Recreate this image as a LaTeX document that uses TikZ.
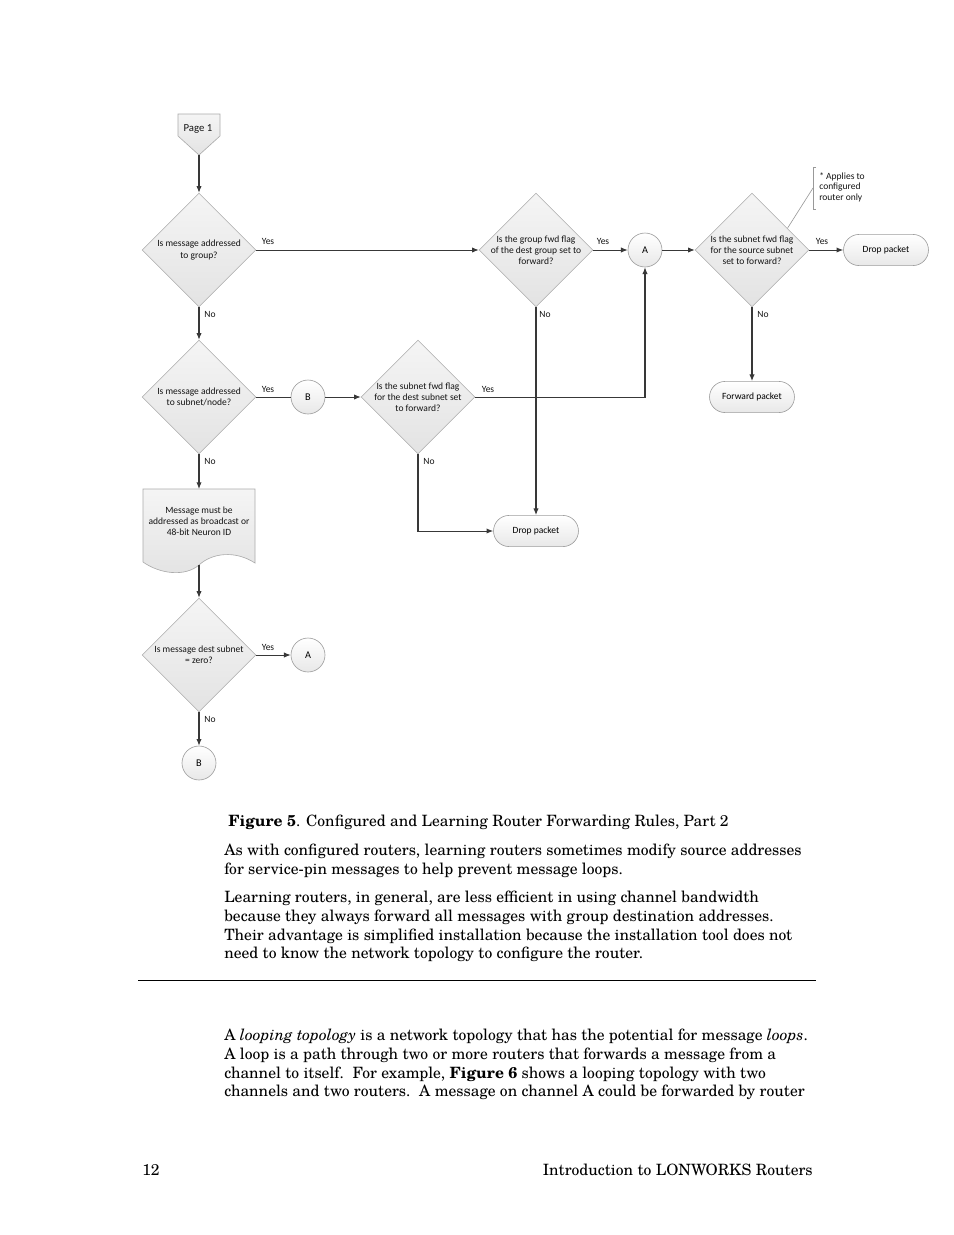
\documentclass[tikz,border=0pt]{standalone}
\usepackage{fontspec}
\setmainfont{TeX Gyre Schola}
\newfontfamily\diag{Carlito}
\usetikzlibrary{shapes.geometric,shapes.misc,arrows.meta,calc}
\begin{document}
\begin{tikzpicture}[x=0.6415pt,y=-0.6415pt,
  line/.style={draw=black!78, line width=0.65pt},
  conn/.style={line, -{Latex[length=4.3pt,width=3.4pt]}},
  dia/.style={diamond, aspect=1, minimum width=73pt, minimum height=73pt, inner sep=0pt,
    draw=black!33, line width=0.4pt, top color=black!4, bottom color=black!11},
  dtext/.style={font=\diag\fontsize{6.1}{7.1}\selectfont, align=center, text=black!92},
  lab/.style={font=\diag\fontsize{6.1}{7}\selectfont, text=black!92},
  circ/.style={circle, minimum size=21.8pt, inner sep=0pt, draw=black!38, line width=0.4pt,
    top color=white, bottom color=black!9, font=\diag\fontsize{6.6}{7.5}\selectfont},
  term/.style={rounded rectangle, minimum width=54.5pt, minimum height=20pt, inner sep=0pt,
    draw=black!38, line width=0.4pt, top color=white, bottom color=black!9,
    font=\diag\fontsize{6.1}{7}\selectfont},
  shapefill/.style={draw=black!33, line width=0.4pt, top color=black!4, bottom color=black!11},
  body/.style={anchor=base west, inner sep=0pt, font=\fontsize{10}{12}\selectfont},
]
\useasboundingbox[fill=white] (0,0) rectangle (954,1235);

% Page 1 off-page connector
\path[shapefill] (178,114) -- (220,114) -- (220,136) -- (199,155) -- (178,136) -- cycle;
\node[dtext, font=\diag\fontsize{6.9}{8}\selectfont] (page1) at (198,129) {Page 1};
\coordinate (p1tip) at (199,155);

% diamonds
\node[dia] (d1) at (199,250) {};
\node[dtext] (t1) at (d1) {Is message addressed\\to group?};
\node[dia] (d2) at (536,250) {};
\node[dtext] (t2) at (d2) {Is the group fwd flag\\of the dest group set to\\forward?};
\node[dia] (d3) at (752,250) {};
\node[dtext] (t3) at (d3) {Is the subnet fwd flag\\for the source subnet\\set to forward?};
\node[dia] (d4) at (199,397) {};
\node[dtext] (t4) at (d4) {Is message addressed\\to subnet/node?};
\node[dia] (d5) at (418,397) {};
\node[dtext] (t5) at (d5) {Is the subnet fwd flag\\for the dest subnet set\\to forward?};
\node[dia] (d6) at (199,655) {};
\node[dtext] (t6) at (d6) {Is message dest subnet\\= zero?};

% connectors circles
\node[circ] (a1) at (645,250) {A};
\node[circ] (b1) at (308,397) {B};
\node[circ] (a2) at (308,655) {A};
\node[circ] (b2) at (199,763) {B};

% terminators
\node[term] (dp1) at (886,250) {Drop packet};
\node[term] (fp) at (752,397) {Forward packet};
\node[term] (dp2) at (536,531) {Drop packet};

% document shape
\path[shapefill] (143,489) -- (255,489) -- (255,563)
  .. controls (235,550) and (212,553) .. (199,565)
  .. controls (185,577) and (160,574) .. (143,562) -- cycle;
\node[dtext] (doc) at (199,521) {Message must be\\addressed as broadcast or\\48-bit Neuron ID};
\coordinate (doct) at (199,489);
\coordinate (docb) at (199,565);

% annotation
\draw[black!40, line width=0.4pt] (816,167) -- (813,167) -- (813,209) -- (816,209);
\node[lab, anchor=north west, align=left, inner sep=0pt] (note) at (819,172) {* Applies to\\configured\\router only};
\coordinate (notel) at (813,188);
\draw[black!40, line width=0.4pt] (notel) -- ($(d3.north)!0.62!(d3.east)$);

% connectors
\draw[conn] (p1tip) -- (d1.north);
\draw[conn] (d1.east) -- (d2.west);
\draw[conn] (d2.east) -- (a1.west);
\draw[conn] (a1.east) -- (d3.west);
\draw[conn] (d3.east) -- (dp1.west);
\draw[conn] (d3.south) -- (fp.north);
\draw[conn] (d2.south) -- (dp2.north);
\draw[conn] (d1.south) -- (d4.north);
\draw[line] (d4.east) -- (b1.west);
\draw[conn] (b1.east) -- (d5.west);
\draw[conn] (d5.east) -| (a1.south);
\draw[conn] (d5.south) |- (dp2.west);
\draw[conn] (d4.south) -- (doct);
\draw[conn] (docb) -- (d6.north);
\draw[conn] (d6.east) -- (a2.west);
\draw[conn] (d6.south) -- (b2.north);

% Yes / No labels
\node[lab] (y1) at (268,241) {Yes};
\node[lab] (y2) at (603,241) {Yes};
\node[lab] (y3) at (822,241) {Yes};
\node[lab] (y4) at (268,389) {Yes};
\node[lab] (y5) at (488,389) {Yes};
\node[lab] (y6) at (268,647) {Yes};
\node[lab] (n1) at (210,314) {No};
\node[lab] (n2) at (545,314) {No};
\node[lab] (n3) at (763,314) {No};
\node[lab] (n4) at (210,461) {No};
\node[lab] (n5) at (429,461) {No};
\node[lab] (n6) at (210,719) {No};

% body text
\node[body] (cap) at (228,826) {\textbf{Figure 5}. Configured and Learning Router Forwarding Rules, Part 2};
\node[body] (p1a) at (224,855) {As with configured routers, learning routers sometimes modify source addresses};
\node[body] (p1b) at (224,874) {for service-pin messages to help prevent message loops.};
\node[body] (p2a) at (224,902) {Learning routers, in general, are less efficient in using channel bandwidth};
\node[body] (p2b) at (224,921) {because they always forward all messages with group destination addresses.};
\node[body] (p2c) at (224,940) {Their advantage is simplified installation because the installation tool does not};
\node[body] (p2d) at (224,958) {need to know the network topology to configure the router.};
\draw[black, line width=0.6pt] (138,980) -- (816,980);
\node[body] (p3a) at (224,1040) {A \textit{looping topology} is a network topology that has the potential for message \textit{loops}.};
\node[body] (p3b) at (224,1059) {A loop is a path through two or more routers that forwards a message from a};
\node[body] (p3c) at (224,1078) {channel to itself.\ \ For example, \textbf{Figure 6} shows a looping topology with two};
\node[body] (p3d) at (224,1096) {channels and two routers.\ \ A message on channel A could be forwarded by router};
\node[body] (pg) at (142,1175) {12};
\node[body, anchor=base east] (ft) at (813,1175) {Introduction to LONWORKS Routers};
\end{tikzpicture}
\end{document}
